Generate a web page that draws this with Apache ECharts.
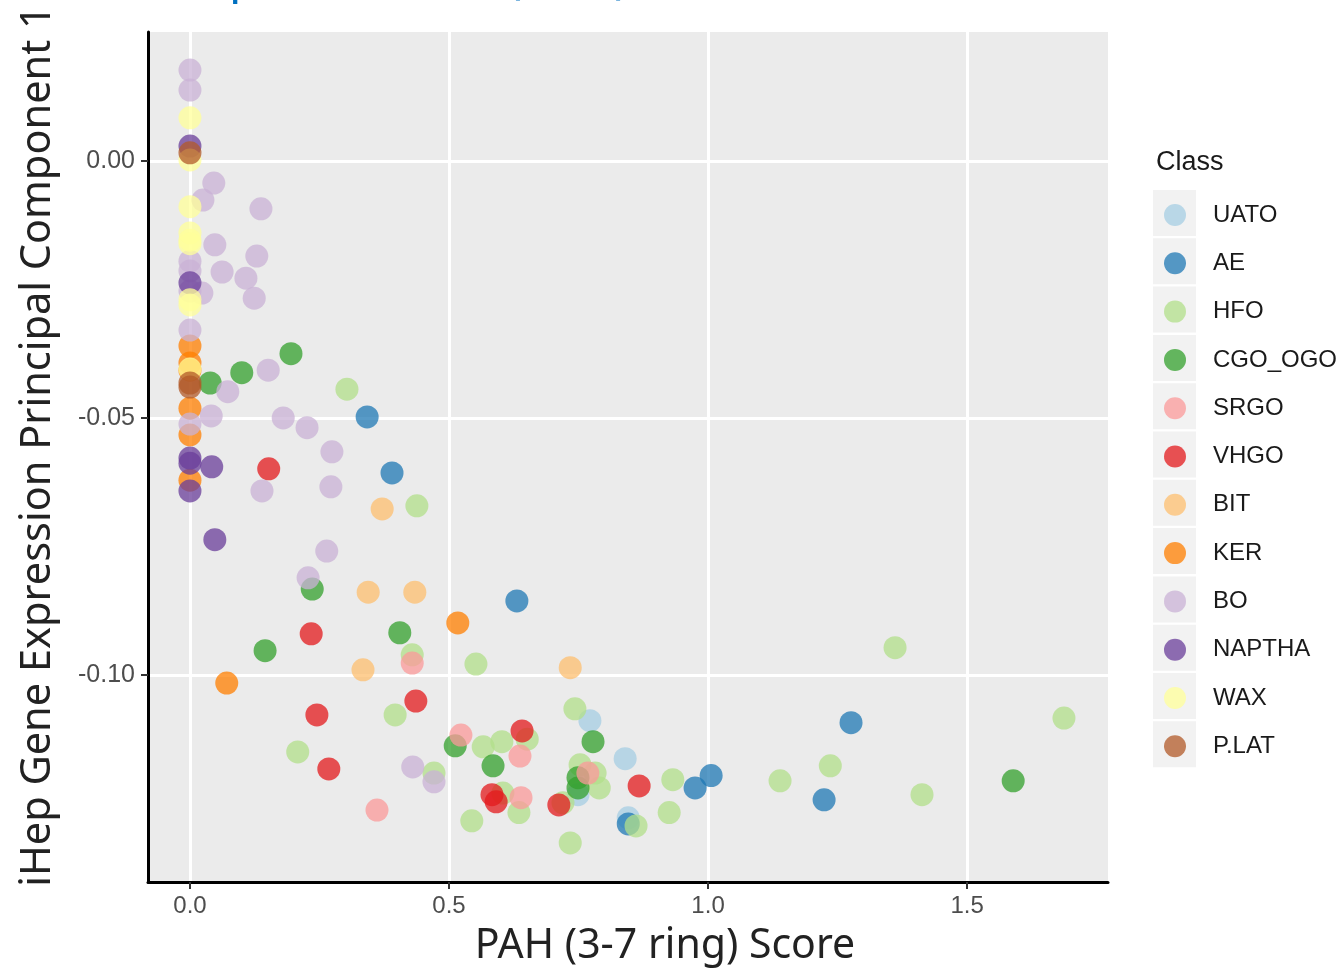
<!DOCTYPE html>
<html>
<head>
<meta charset="utf-8">
<title>PAH Score vs iHep PC1</title>
<style>
  html, body { width: 100%; height: 100%; margin: 0; background: #fff; }
  #chart { width: 1337px; height: 969px; }
</style>
<script src="https://cdn.jsdelivr.net/npm/echarts@6/dist/echarts.min.js"></script>
</head>
<body>
<div id="chart"></div>
<script>
  // legend order and colours (RColorBrewer "Paired")
  const classes = ['UATO', 'AE', 'HFO', 'CGO_OGO', 'SRGO', 'VHGO', 'BIT', 'KER', 'BO', 'NAPTHA', 'WAX', 'P.LAT'];
  const colors = ['#A6CEE3', '#1F78B4', '#B2DF8A', '#33A02C', '#FB9A99', '#E31A1C', '#FDBF6F', '#FF7F00', '#CAB2D6', '#6A3D9A', '#FFFF99', '#B15928'];

  const xTicks = [0, 0.5, 1.0, 1.5];
  const yTicks = [-0.10, -0.05, 0.00];

  // [PAH score, PC1] per class
  const UATO = [[0.772, -0.1089], [0.840, -0.1163], [0.749, -0.1233], [0.846, -0.1278]];
  const AE = [[0.342, -0.0498], [0.390, -0.0607], [0.631, -0.0856], [1.276, -0.1093], [1.006, -0.1196],
    [0.975, -0.1220], [1.224, -0.1243], [0.846, -0.1290]];
  const HFO = [[0.303, -0.0444], [0.438, -0.0671], [1.361, -0.0947], [0.429, -0.0961], [0.552, -0.0979],
    [1.687, -0.1084], [0.743, -0.1066], [0.396, -0.1078], [0.208, -0.1150], [0.566, -0.1140],
    [0.602, -0.1130], [0.651, -0.1125], [0.471, -0.1191], [0.753, -0.1175], [0.782, -0.1191],
    [0.790, -0.1220], [0.604, -0.1230], [0.635, -0.1268], [0.544, -0.1284], [0.734, -0.1327],
    [0.932, -0.1204], [0.925, -0.1268], [0.861, -0.1294], [1.139, -0.1206], [1.236, -0.1177],
    [1.413, -0.1233], [0.720, -0.1249]];
  const CGO_OGO = [[0.195, -0.0375], [0.100, -0.0412], [0.039, -0.0432], [0.236, -0.0833], [0.405, -0.0918],
    [0.145, -0.0953], [0.512, -0.1138], [0.585, -0.1177], [0.778, -0.1130], [0.749, -0.1200],
    [0.749, -0.1220], [1.589, -0.1206]];
  const SRGO = [[0.429, -0.0977], [0.523, -0.1117], [0.637, -0.1158], [0.768, -0.1191], [0.639, -0.1239], [0.361, -0.1263]];
  const VHGO = [[0.152, -0.0599], [0.234, -0.0920], [0.436, -0.1051], [0.245, -0.1078], [0.641, -0.1109],
    [0.268, -0.1183], [0.583, -0.1233], [0.591, -0.1247], [0.712, -0.1253], [0.867, -0.1216]];
  const BIT = [[0.371, -0.0677], [0.344, -0.0839], [0.434, -0.0839], [0.334, -0.0990], [0.734, -0.0986]];
  const KER = [[0.517, -0.0899], [0.071, -0.1016], [0, -0.0360], [0, -0.0393], [0, -0.0407], [0, -0.0481],
    [0, -0.0533], [0, -0.0621]];
  const BO = [[0, 0.0177], [0, 0.0138], [0.046, -0.0043], [0.025, -0.0076], [0.137, -0.0093], [0.048, -0.0163],
    [0.129, -0.0185], [0.062, -0.0216], [0.108, -0.0228], [0.023, -0.0257], [0.124, -0.0267], [0, -0.0329],
    [0, -0.0195], [0, -0.0214], [0, -0.0253], [0.073, -0.0449], [0.151, -0.0407], [0.041, -0.0496],
    [0.180, -0.0500], [0.226, -0.0519], [0, -0.0512], [0.274, -0.0566], [0.139, -0.0642], [0.272, -0.0634],
    [0.264, -0.0759], [0.228, -0.0811], [0.430, -0.1179], [0.471, -0.1208]];
  const NAPTHA = [[0, 0.0029], [0, -0.0237], [0, -0.0578], [0, -0.0588], [0.042, -0.0595], [0, -0.0642], [0.048, -0.0737]];
  const WAX = [[0, 0.0084], [0, 0.0002], [0, -0.0089], [0, -0.0140], [0, -0.0154], [0, -0.0161], [0, -0.0270],
    [0, -0.0280], [0, -0.0405]];
  const PLAT = [[0, 0.0016], [0, -0.0432], [0, -0.0440]];

  const classData = [UATO, AE, HFO, CGO_OGO, SRGO, VHGO, BIT, KER, BO, NAPTHA, WAX, PLAT];

  const chart = echarts.init(document.getElementById('chart'), null, { renderer: 'canvas' });

  // grey key boxes behind legend symbols
  const keyCenter0 = 213, keyStep = 48.3;
  const keyBoxes = classes.map((c, i) => ({
    type: 'rect',
    z: -1,
    shape: { x: 1153, y: keyCenter0 - 23 + i * keyStep, width: 43, height: 46 },
    style: { fill: '#F2F2F2' }
  }));

  const option = {
    animation: false,
    backgroundColor: '#fff',
    title: {
      text: 'Class',
      left: 1151,
      top: 144,
      textStyle: { fontFamily: 'Liberation Sans', fontSize: 27, fontWeight: 'normal', color: '#1a1a1a' }
    },
    graphic: [
      {
        type: 'text',
        left: 154,
        top: -45,
        style: { text: 'iHep PC1 Score (PAH)', font: '48px "Noto Sans"', fill: '#0070C0' }
      },
      ...keyBoxes
    ],
    legend: {
      orient: 'vertical',
      left: 1159,
      top: 198,
      itemWidth: 22,
      itemHeight: 22,
      itemGap: 24.3,
      icon: 'circle',
      data: classes,
      textStyle: { fontFamily: 'Liberation Sans', fontSize: 24, color: '#1a1a1a', padding: [0, 0, 0, 22] }
    },
    grid: {
      left: 148, right: 229, top: 32, bottom: 87,
      containLabel: false,
      outerBoundsMode: 'none',
      show: true, backgroundColor: '#EBEBEB', borderWidth: 0
    },
    xAxis: {
      type: 'value',
      min: -0.081, max: 1.772,
      splitNumber: 4, minInterval: 0.5, maxInterval: 0.5,
      name: 'PAH (3-7 ring) Score',
      nameLocation: 'middle',
      nameGap: 44,
      nameTextStyle: { fontFamily: 'Noto Sans', fontSize: 41, color: '#222', padding: [0, 0, 0, 74] },
      axisLine: { onZero: false, lineStyle: { color: '#000', width: 3 } },
      axisTick: { length: 7, lineStyle: { color: '#333', width: 2 }, customValues: xTicks },
      axisLabel: {
        customValues: xTicks,
        margin: 12, fontFamily: 'Liberation Sans', fontSize: 24, color: '#4D4D4D',
        formatter: v => v.toFixed(1)
      },
      splitLine: { show: true, lineStyle: { color: '#fff', width: 3 } }
    },
    yAxis: {
      type: 'value',
      min: -0.1403, max: 0.0251,
      splitNumber: 3, minInterval: 0.05, maxInterval: 0.05,
      name: 'iHep Gene Expression Principal Component 1',
      nameLocation: 'middle',
      nameGap: 89,
      nameTextStyle: { fontFamily: 'Noto Sans', fontSize: 41.5, color: '#222', padding: [0, 0, 0, 22] },
      axisLine: { onZero: false, lineStyle: { color: '#000', width: 3 } },
      axisTick: { length: 7, lineStyle: { color: '#333', width: 2 }, customValues: yTicks },
      axisLabel: {
        customValues: yTicks,
        margin: 13, fontFamily: 'Liberation Sans', fontSize: 25, color: '#4D4D4D',
        formatter: v => v.toFixed(2)
      },
      splitLine: { show: true, lineStyle: { color: '#fff', width: 3 } }
    },
    series: classes.map((c, i) => ({
      name: c,
      type: 'scatter',
      data: classData[i],
      symbolSize: 23,
      itemStyle: { color: colors[i], opacity: 0.75 }
    }))
  };

  chart.setOption(option);
</script>
</body>
</html>
